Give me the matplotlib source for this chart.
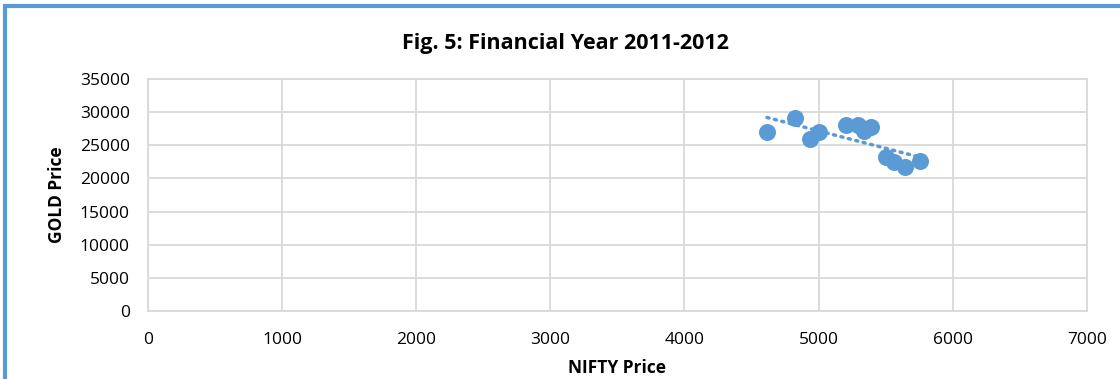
import numpy as np
import matplotlib.pyplot as plt
from matplotlib.patches import Rectangle

plt.rcParams['font.family'] = ['Open Sans', 'DejaVu Sans']

# NIFTY vs GOLD, FY 2011-2012 (monthly)
nifty = [4615, 4821, 4933, 5002, 5201, 5293, 5335, 5393, 5499, 5559, 5641, 5752]
gold = [27044, 29065, 25943, 27044, 28054, 28054, 27195, 27800, 23180, 22430, 21680, 22620]

blue = '#5B9BD5'
grid = '#D9D9D9'

fig = plt.figure(figsize=(11.2, 3.79), dpi=100)
ax = fig.add_axes([0.132, 0.179, 0.8385, 0.6126])

ax.scatter(nifty, gold, s=150, color=blue, zorder=3, linewidths=0)

# linear trendline
k, b = np.polyfit(nifty, gold, 1)
tx = np.array([min(nifty), max(nifty)])
ax.plot(tx, k * tx + b, color=blue, lw=2.5, linestyle=(0, (0.6, 1.6)),
        dash_capstyle='round', zorder=2)

ax.set_xlim(0, 7000)
ax.set_ylim(0, 35000)
ax.set_xticks(range(0, 7001, 1000))
ax.set_yticks(range(0, 35001, 5000))
ax.grid(True, color=grid, lw=1.3)
ax.set_axisbelow(True)
for s in ax.spines.values():
    s.set_color(grid)
    s.set_linewidth(1.3)
ax.tick_params(length=0, labelsize=12.5)
ax.tick_params(axis='y', pad=13)
ax.tick_params(axis='x', pad=15)

# title is centred on the whole chart, not on the plot area
fig.text(565 / 1120, 1 - 43 / 379, 'Fig. 5: Financial Year 2011-2012',
         fontsize=15.5, fontweight='bold', ha='center', va='center')
ax.set_xlabel('NIFTY Price', fontsize=12.5, fontweight='bold', labelpad=8)
ax.set_ylabel('GOLD Price', fontsize=12.5, fontweight='bold', labelpad=10)

# outer blue frame (only left and top visible in crop)
fig.patches.append(Rectangle((5 / 1120, -0.1), 1.2, 1.1 - 6 / 379,
                             transform=fig.transFigure, fill=False,
                             edgecolor=blue, lw=3))

fig.savefig('out.png', dpi=100)
